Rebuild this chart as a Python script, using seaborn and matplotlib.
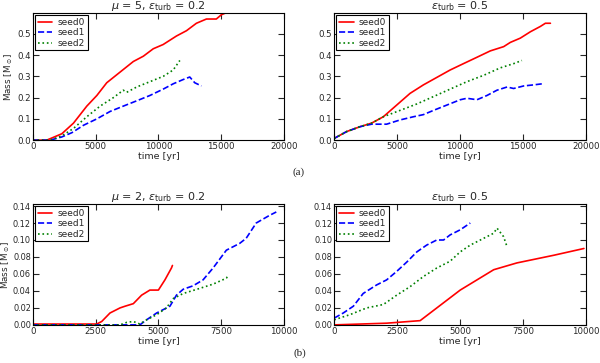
import numpy as np
import pandas as pd
import matplotlib
matplotlib.use('Agg')
import matplotlib.pyplot as plt
import seaborn as sns

# panel (a) left: mu = 5, eps_turb = 0.2
a1_t0 = [0, 1100, 2300, 3230, 4290, 5090, 5880, 6940, 8000, 8800, 9590, 10380, 11440, 12240, 13030, 13830, 14620, 15020, 15420, 16000]
a1_m0 = [0.0, 0.0, 0.03, 0.08, 0.16, 0.21, 0.27, 0.32, 0.37, 0.395, 0.43, 0.45, 0.49, 0.515, 0.55, 0.57, 0.57, 0.59, 0.60, 0.62]
a1_t1 = [0, 1380, 2300, 3100, 4030, 5090, 6150, 7200, 8270, 9320, 10380, 11180, 11970, 12500, 12900, 13430]
a1_m1 = [0.0, 0.0, 0.015, 0.035, 0.07, 0.10, 0.135, 0.16, 0.185, 0.21, 0.24, 0.265, 0.285, 0.297, 0.27, 0.255]
a1_t2 = [0, 1380, 2300, 3230, 4290, 5350, 6410, 7200, 7470, 8270, 9320, 10380, 11180, 11710]
a1_m2 = [0.0, 0.0, 0.02, 0.055, 0.11, 0.16, 0.20, 0.235, 0.225, 0.25, 0.275, 0.30, 0.33, 0.375]

# panel (a) right: eps_turb = 0.5
a2_t0 = [0, 980, 2040, 2970, 3900, 4960, 6020, 7080, 8140, 9200, 10260, 11330, 12390, 13450, 13980, 14770, 15570, 16360, 16760, 17160]
a2_m0 = [0.008, 0.04, 0.063, 0.08, 0.11, 0.165, 0.22, 0.26, 0.295, 0.33, 0.36, 0.39, 0.42, 0.44, 0.46, 0.48, 0.51, 0.535, 0.55, 0.55]
a2_t1 = [0, 980, 2040, 2970, 4160, 5230, 6290, 7080, 7880, 8940, 10000, 10530, 11330, 12120, 12920, 13720, 14240, 15040, 15830, 16500]
a2_m1 = [0.008, 0.04, 0.063, 0.075, 0.075, 0.095, 0.11, 0.12, 0.14, 0.165, 0.19, 0.197, 0.19, 0.21, 0.235, 0.25, 0.243, 0.255, 0.26, 0.265]
a2_t2 = [0, 980, 2040, 2970, 3900, 5230, 6550, 7880, 9200, 10530, 11860, 13180, 14240, 14900]
a2_m2 = [0.008, 0.04, 0.063, 0.08, 0.11, 0.14, 0.17, 0.205, 0.24, 0.275, 0.305, 0.34, 0.36, 0.375]

# panel (b) left: mu = 2, eps_turb = 0.2
b1_t0 = [0, 2540, 2740, 3070, 3470, 3670, 4000, 4330, 4660, 5000, 5260, 5520, 5560]
b1_m0 = [0.001, 0.001, 0.004, 0.014, 0.02, 0.022, 0.025, 0.035, 0.041, 0.041, 0.053, 0.067, 0.070]
b1_t1 = [0, 4260, 4530, 4930, 5460, 5720, 5990, 6380, 6780, 7180, 7710, 8240, 8500, 8900, 9430, 9700]
b1_m1 = [0.0, 0.0, 0.006, 0.014, 0.022, 0.035, 0.042, 0.046, 0.053, 0.067, 0.088, 0.096, 0.102, 0.12, 0.129, 0.133]
b1_t2 = [0, 3470, 3740, 4000, 4260, 4530, 4930, 5320, 5590, 5990, 6650, 7180, 7710, 7750]
b1_m2 = [0.0, 0.0, 0.003, 0.004, 0.001, 0.006, 0.012, 0.02, 0.031, 0.037, 0.043, 0.048, 0.055, 0.057]

# panel (b) right: eps_turb = 0.5
b2_t0 = [0, 2080, 3410, 5000, 6330, 7250, 8710, 9910]
b2_m0 = [0.0, 0.002, 0.005, 0.041, 0.065, 0.073, 0.082, 0.090]
b2_t1 = [0, 360, 760, 1150, 1680, 2080, 2480, 2880, 3280, 3670, 4070, 4340, 4600, 5000, 5400]
b2_m1 = [0.008, 0.014, 0.022, 0.037, 0.047, 0.053, 0.063, 0.074, 0.086, 0.094, 0.10, 0.10, 0.106, 0.112, 0.12]
b2_t2 = [0, 620, 1290, 1950, 2480, 3010, 3540, 4070, 4600, 5000, 5400, 5800, 6330, 6460, 6720, 6860]
b2_m2 = [0.006, 0.012, 0.02, 0.024, 0.035, 0.045, 0.057, 0.067, 0.075, 0.086, 0.094, 0.10, 0.108, 0.114, 0.104, 0.092]

seeds = ['seed0', 'seed1', 'seed2']
titles = [r'$\mu$ = 5, $\varepsilon_{\rm turb}$ = 0.2', r'$\varepsilon_{\rm turb}$ = 0.5',
          r'$\mu$ = 2, $\varepsilon_{\rm turb}$ = 0.2', r'$\varepsilon_{\rm turb}$ = 0.5']

panels = [
    [(a1_t0, a1_m0), (a1_t1, a1_m1), (a1_t2, a1_m2)],
    [(a2_t0, a2_m0), (a2_t1, a2_m1), (a2_t2, a2_m2)],
    [(b1_t0, b1_m0), (b1_t1, b1_m1), (b1_t2, b1_m2)],
    [(b2_t0, b2_m0), (b2_t1, b2_m1), (b2_t2, b2_m2)],
]

sns.set_style('ticks')
plt.rcParams.update({
    'xtick.direction': 'in', 'ytick.direction': 'in',
    'xtick.top': True, 'ytick.right': True,
    'xtick.major.size': 4, 'ytick.major.size': 4,
    'xtick.labelsize': 6.2, 'ytick.labelsize': 6.2,
    'axes.linewidth': 0.8, 'axes.edgecolor': 'black',
})
plt.rcParams['font.family'] = ['DejaVu Sans']

fig = plt.figure(figsize=(6, 3.63), dpi=100)
positions = [[0.055, 0.614, 0.418, 0.35], [0.557, 0.614, 0.42, 0.35],
             [0.055, 0.105, 0.418, 0.333], [0.557, 0.105, 0.42, 0.333]]
colors = ['red', 'blue', 'green']
styles = ['-', '--', ':']

for i, pos in enumerate(positions):
    ax = fig.add_axes(pos)
    for (t, m), lab, c, ls in zip(panels[i], seeds, colors, styles):
        df = pd.DataFrame({'time': t, 'mass': m})
        sns.lineplot(data=df, x='time', y='mass', ax=ax, color=c, linestyle=ls,
                     linewidth=1.2, label=lab, sort=False, estimator=None)
    if i < 2:
        ax.set_xlim(0, 20000)
        ax.set_xticks([0, 5000, 10000, 15000, 20000])
        ax.set_ylim(0, 0.598)
        ax.set_yticks([0.0, 0.1, 0.2, 0.3, 0.4, 0.5])
        ax.set_yticklabels(['0.0', '0.1', '0.2', '0.3', '0.4', '0.5'])
    else:
        ax.set_xlim(0, 10000)
        ax.set_xticks([0, 2500, 5000, 7500, 10000])
        ax.set_ylim(0, 0.1424)
        ax.set_yticks([0.0, 0.02, 0.04, 0.06, 0.08, 0.10, 0.12, 0.14])
        ax.set_yticklabels(['0.00', '0.02', '0.04', '0.06', '0.08', '0.10', '0.12', '0.14'])
        ax.tick_params(axis='y', labelsize=5.9)
    ax.set_xlabel('time [yr]', fontsize=6.8, labelpad=0.5)
    if i % 2 == 0:
        ax.set_ylabel(r'Mass [M$_\odot$]', fontsize=6.3)
        ax.yaxis.set_label_coords(-0.072 if i == 0 else -0.082, 0.5)
    else:
        ax.set_ylabel('')
    ax.set_title(titles[i], fontsize=8, pad=2)
    ax.tick_params(pad=1.5)
    for sp in ax.spines.values():
        sp.set_visible(True)
    leg = ax.legend(loc='upper left', fontsize=6.5, fancybox=False, framealpha=1,
                    edgecolor='black', borderpad=0.3, labelspacing=0.15,
                    handlelength=1.6, handletextpad=0.6, borderaxespad=0.25)
    leg.get_frame().set_linewidth(0.8)

fig.text(0.497, 0.527, '(a)', ha='center', va='center', fontsize=8, family='Liberation Serif')
fig.text(0.5, 0.028, '(b)', ha='center', va='center', fontsize=8, family='Liberation Serif')

fig.savefig('out.png', dpi=100)
